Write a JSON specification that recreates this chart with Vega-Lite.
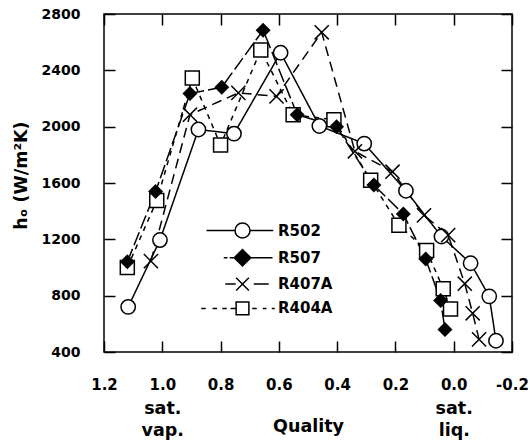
{
  "$schema": "https://vega.github.io/schema/vega-lite/v6.json",
  "width": 408,
  "height": 338,
  "autosize": "none",
  "padding": {"left": 104, "top": 14, "right": 18, "bottom": 94},
  "background": "white",
  "config": {
    "view": {"stroke": "black", "strokeWidth": 1.5},
    "font": "DejaVu Sans",
    "axis": {
      "labelFont": "DejaVu Sans", "labelFontWeight": "bold", "labelColor": "black",
      "titleFont": "DejaVu Sans", "titleFontWeight": "bold", "titleColor": "black",
      "tickColor": "black", "tickWidth": 1.5, "grid": false, "domain": false
    }
  },
  "data": {
    "values": [
      {"series": "R404A", "q": 1.12, "h": 1000},
      {"series": "R404A", "q": 1.019, "h": 1475},
      {"series": "R404A", "q": 0.897, "h": 2345},
      {"series": "R404A", "q": 0.8, "h": 1870},
      {"series": "R404A", "q": 0.662, "h": 2545},
      {"series": "R404A", "q": 0.551, "h": 2085},
      {"series": "R404A", "q": 0.411, "h": 2050},
      {"series": "R404A", "q": 0.285, "h": 1620},
      {"series": "R404A", "q": 0.188, "h": 1300},
      {"series": "R404A", "q": 0.093, "h": 1120},
      {"series": "R404A", "q": 0.036, "h": 850},
      {"series": "R404A", "q": 0.011, "h": 705},
      {"series": "R502", "q": 1.117, "h": 720},
      {"series": "R502", "q": 1.008, "h": 1195},
      {"series": "R502", "q": 0.876, "h": 1980},
      {"series": "R502", "q": 0.754, "h": 1950},
      {"series": "R502", "q": 0.594, "h": 2525},
      {"series": "R502", "q": 0.461, "h": 2005},
      {"series": "R502", "q": 0.307, "h": 1880},
      {"series": "R502", "q": 0.164, "h": 1545},
      {"series": "R502", "q": 0.042, "h": 1220},
      {"series": "R502", "q": -0.058, "h": 1030},
      {"series": "R502", "q": -0.122, "h": 795},
      {"series": "R502", "q": -0.145, "h": 480},
      {"series": "R407A", "q": 1.039, "h": 1045},
      {"series": "R407A", "q": 0.905, "h": 2085},
      {"series": "R407A", "q": 0.739, "h": 2240},
      {"series": "R407A", "q": 0.608, "h": 2215},
      {"series": "R407A", "q": 0.453, "h": 2670},
      {"series": "R407A", "q": 0.339, "h": 1825},
      {"series": "R407A", "q": 0.21, "h": 1680},
      {"series": "R407A", "q": 0.102, "h": 1370},
      {"series": "R407A", "q": 0.019, "h": 1230},
      {"series": "R407A", "q": -0.038, "h": 885},
      {"series": "R407A", "q": -0.065, "h": 675},
      {"series": "R407A", "q": -0.087, "h": 490},
      {"series": "R507", "q": 1.12, "h": 1040},
      {"series": "R507", "q": 1.023, "h": 1540},
      {"series": "R507", "q": 0.905, "h": 2235},
      {"series": "R507", "q": 0.796, "h": 2280},
      {"series": "R507", "q": 0.654, "h": 2685},
      {"series": "R507", "q": 0.537, "h": 2085},
      {"series": "R507", "q": 0.402, "h": 2000},
      {"series": "R507", "q": 0.274, "h": 1585},
      {"series": "R507", "q": 0.173, "h": 1380},
      {"series": "R507", "q": 0.096, "h": 1060},
      {"series": "R507", "q": 0.045, "h": 765},
      {"series": "R507", "q": 0.03, "h": 560}
    ]
  },
  "layer": [
    {
      "mark": {"type": "line", "color": "black", "strokeWidth": 1.5},
      "encoding": {
        "x": {
          "field": "q", "type": "quantitative",
          "scale": {"domain": [-0.2, 1.2], "reverse": true, "nice": false, "zero": false},
          "axis": {
            "orient": "bottom", "values": [1.2, 1.0, 0.8, 0.6, 0.4, 0.2, 0.0, -0.2],
            "labelExpr": "datum.value < 0 ? '-' + format(-datum.value, '.1f') : format(datum.value, '.1f')",
            "tickSize": -11, "labelFontSize": 15, "labelPadding": 36, "labelFlush": false, "labelOverlap": false,
            "title": "Quality", "titleFontSize": 17.5, "titleY": 74, "titleBaseline": "middle"
          }
        },
        "y": {
          "field": "h", "type": "quantitative",
          "scale": {"domain": [400, 2800], "nice": false, "zero": false},
          "axis": {
            "orient": "left", "values": [400, 800, 1200, 1600, 2000, 2400, 2800], "format": "d",
            "tickSize": -11, "labelFontSize": 14, "labelPadding": 35, "labelOverlap": false,
            "title": "hₒ   (W/m²K)", "titleFontSize": 17.5, "titleX": -83, "titleY": 161,
            "titleAngle": -90, "titleAlign": "center", "titleBaseline": "middle"
          }
        },
        "strokeDash": {
          "field": "series", "type": "nominal",
          "scale": {"domain": ["R404A", "R407A", "R502", "R507"], "range": [[5, 5], [10, 6], [1, 0], [14, 4]]},
          "legend": null
        }
      }
    },
    {
      "transform": [{"filter": "datum.series !== 'R507'"}],
      "mark": {"type": "point", "stroke": "black", "strokeWidth": 1.5, "opacity": 1, "fillOpacity": 1},
      "encoding": {
        "x": {
          "field": "q", "type": "quantitative",
          "scale": {"domain": [-0.2, 1.2], "reverse": true, "nice": false, "zero": false},
          "axis": {"orient": "top", "values": [1.2, 1.0, 0.8, 0.6, 0.4, 0.2, 0.0, -0.2], "tickSize": -11, "labels": false, "title": null}
        },
        "y": {
          "field": "h", "type": "quantitative",
          "scale": {"domain": [400, 2800], "nice": false, "zero": false},
          "axis": {"orient": "right", "values": [400, 800, 1200, 1600, 2000, 2400, 2800], "tickSize": -11, "labels": false, "title": null}
        },
        "shape": {
          "field": "series", "type": "nominal",
          "scale": {"domain": ["R404A", "R407A", "R502", "R507"], "range": ["square", "M-1 -1L1 1M-1 1L1 -1", "circle", "diamond"]},
          "legend": null
        },
        "fill": {
          "field": "series", "type": "nominal",
          "scale": {"domain": ["R404A", "R407A", "R502", "R507"], "range": ["white", "transparent", "white", "black"]},
          "legend": null
        },
        "size": {
          "field": "series", "type": "nominal",
          "scale": {"domain": ["R404A", "R407A", "R502", "R507"], "range": [196, 210, 256, 225]},
          "legend": null
        }
      }
    },
    {
      "transform": [{"filter": "datum.series === 'R507'"}],
      "mark": {"type": "point", "shape": "diamond", "filled": true, "color": "black", "size": 225, "opacity": 1},
      "encoding": {
        "x": {
          "field": "q", "type": "quantitative",
          "scale": {"domain": [-0.2, 1.2], "reverse": true, "nice": false, "zero": false},
          "axis": {
            "orient": "bottom", "values": [1.0, 0.0], "ticks": false, "labelFontSize": 17.5, "labelLineHeight": 22,
            "labelPadding": 47, "labelFlush": false, "labelOverlap": false, "title": null,
            "labelExpr": "datum.value == 1 ? ['sat.', 'vap.'] : ['sat.', 'liq.']"
          }
        },
        "y": {
          "field": "h", "type": "quantitative",
          "scale": {"domain": [400, 2800], "nice": false, "zero": false},
          "axis": null
        }
      }
    },
    {
      "mark": {"type": "point", "filled": false, "strokeWidth": 1.5, "opacity": 0},
      "encoding": {
        "x": {"field": "q", "type": "quantitative", "axis": null},
        "y": {"field": "h", "type": "quantitative", "axis": null},
        "stroke": {
          "field": "series", "type": "nominal",
          "scale": {"domain": ["R502", "R507", "R407A", "R404A"], "range": ["black", "black", "black", "black"]},
          "legend": {
            "orient": "none", "legendX": 130, "legendY": 208, "title": null,
            "labelFont": "DejaVu Sans", "labelFontSize": 15, "labelFontWeight": "bold", "labelColor": "black",
            "labelOffset": 27, "rowPadding": 5.3, "padding": 0, "symbolSize": 225, "symbolStrokeWidth": 1.5,
            "symbolOpacity": 1
          }
        },
        "shape": {
          "field": "series", "type": "nominal",
          "scale": {
            "domain": ["R502", "R507", "R407A", "R404A"],
            "range": [
              "M-4.8 0L-1 0M1 0L4.1 0M-1 0A1 1 0 1 1 1 0A1 1 0 1 1 -1 0Z",
              "M-2.5 0L-2 0M-1.7 0L-1 0M1 0L4 0M-1.1 0L0 -1.1L1.1 0L0 1.1Z",
              "M-2.3 0L-0.9 0M-0.85 -0.85L0.85 0.85M-0.85 0.85L0.85 -0.85M1.5 0L3.5 0",
              "M-5.5 0L-4.9 0M-4 0L-3.4 0M-2.7 0L-2.1 0M-1.6 0L-0.9 0M1.3 0L1.9 0M2.7 0L3.2 0M3.9 0L4.3 0M-0.85 -0.85L0.85 -0.85L0.85 0.85L-0.85 0.85Z"
            ]
          },
          "legend": {
            "orient": "none", "legendX": 130, "legendY": 208, "title": null,
            "labelFont": "DejaVu Sans", "labelFontSize": 15, "labelFontWeight": "bold", "labelColor": "black",
            "labelOffset": 27, "rowPadding": 5.3, "padding": 0, "symbolSize": 225, "symbolStrokeWidth": 1.5,
            "symbolOpacity": 1
          }
        },
        "fill": {
          "field": "series", "type": "nominal",
          "scale": {"domain": ["R502", "R507", "R407A", "R404A"], "range": ["white", "black", "transparent", "white"]},
          "legend": {
            "orient": "none", "legendX": 130, "legendY": 208, "title": null,
            "labelFont": "DejaVu Sans", "labelFontSize": 15, "labelFontWeight": "bold", "labelColor": "black",
            "labelOffset": 27, "rowPadding": 5.3, "padding": 0, "symbolSize": 225, "symbolStrokeWidth": 1.5,
            "symbolOpacity": 1
          }
        }
      }
    }
  ],
  "resolve": {
    "axis": {"x": "independent", "y": "independent"},
    "scale": {"shape": "independent", "fill": "independent", "stroke": "independent"}
  }
}
